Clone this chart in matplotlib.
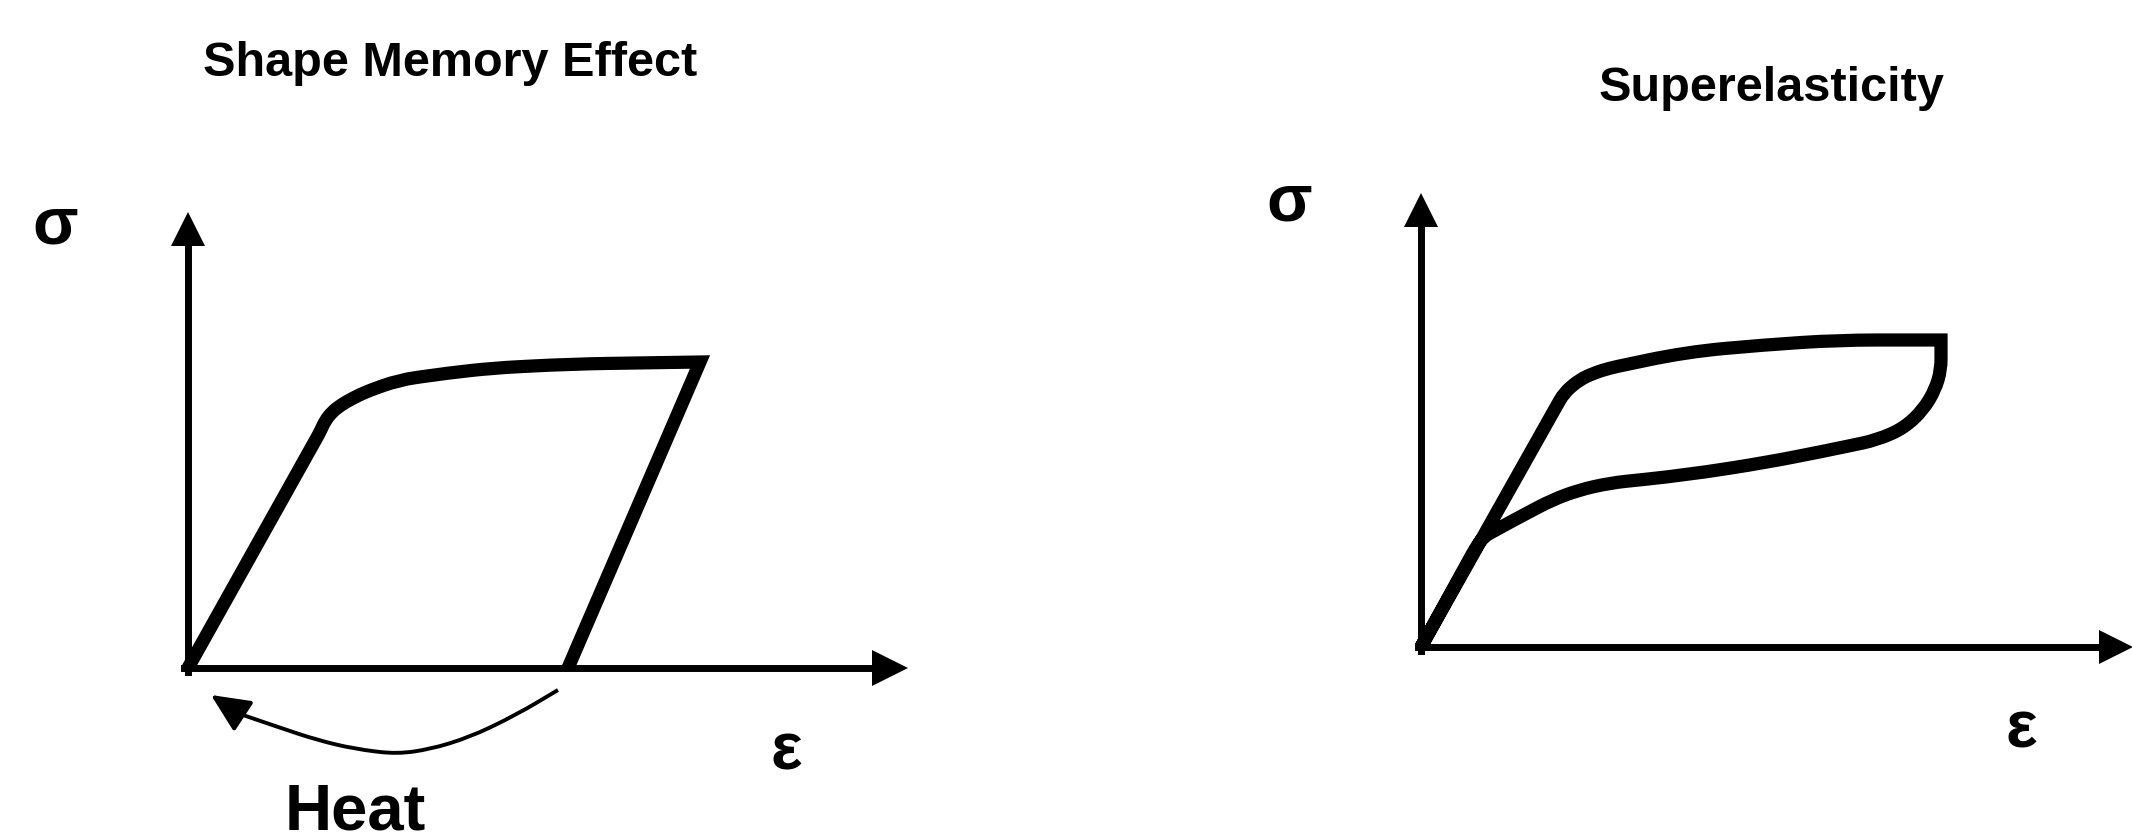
import matplotlib
matplotlib.use("Agg")
import numpy as np
import matplotlib.pyplot as plt
from matplotlib.path import Path
from matplotlib.patches import PathPatch

plt.rcParams['font.family'] = ['Liberation Sans', 'DejaVu Sans']

# ---- data (schematic stress-strain curves, arbitrary units) ----
titles = ["Shape Memory Effect", "Superelasticity"]
stress_label = "σ"
strain_label = "ε"
heat_label = "Heat"

# Shape memory effect: loading, plateau, elastic unloading to residual strain
sme_strain = [0.00, 1.32, 1.37, 1.44, 1.53, 1.65, 1.80, 2.11, 2.60, 3.06, 3.83, 5.12, 3.80]
sme_stress = [0.00, 2.36, 2.47, 2.56, 2.63, 2.70, 2.77, 2.88, 2.95, 3.00, 3.04, 3.06, 0.00]
sme_sharp = [11]

# Heat recovery arrow (from residual strain back towards origin)
heat_strain = [3.70, 3.28, 2.82, 2.43, 2.09, 1.67, 1.29, 0.90, 0.52]
heat_stress = [-0.22, -0.47, -0.69, -0.81, -0.86, -0.81, -0.72, -0.59, -0.46]
heat_tip = (0.23, -0.27)

# Superelasticity: loading branch then unloading branch
se_load_strain = [0.00, 1.35, 1.43, 1.58, 1.73, 1.89, 2.65, 3.42, 4.18, 5.20]
se_load_stress = [0.00, 2.40, 2.54, 2.67, 2.74, 2.79, 2.95, 3.02, 3.07, 3.07]
se_unload_strain = [5.20, 5.20, 5.14, 5.02, 4.83, 4.56, 3.99, 3.42, 2.65, 1.89, 1.58, 1.31, 0.93, 0.62, 0.54, 0.00]
se_unload_stress = [3.07, 2.77, 2.57, 2.37, 2.19, 2.07, 1.95, 1.84, 1.72, 1.64, 1.57, 1.47, 1.27, 1.10, 0.98, 0.00]


def rounded_path(xs, ys, sharp=()):
    """Polyline through the points with each non-sharp vertex rounded by a quadratic Bezier."""
    P = np.column_stack([xs, ys]).astype(float)
    verts = [P[0]]
    codes = [Path.MOVETO]
    for i in range(1, len(P) - 1):
        if i in sharp:
            verts.append(P[i]); codes.append(Path.LINETO)
            continue
        vp = P[i - 1] - P[i]
        vn = P[i + 1] - P[i]
        lp, ln = np.hypot(*vp), np.hypot(*vn)
        if lp == 0 or ln == 0:
            verts.append(P[i]); codes.append(Path.LINETO)
            continue
        d = 0.5 * min(lp, ln)
        a = P[i] + vp / lp * d
        b = P[i] + vn / ln * d
        verts += [a, P[i], b]
        codes += [Path.LINETO, Path.CURVE3, Path.CURVE3]
    verts.append(P[-1]); codes.append(Path.LINETO)
    return Path(verts, codes)


# ---- figure ----
fig = plt.figure(figsize=(21.32, 8.32), dpi=100)
axL = fig.add_axes([0.0, 0.0, 0.5, 1.0])
axR = fig.add_axes([0.5, 0.0, 0.5, 1.0])

AX_LW = 5.0
CURVE_LW = 9.5


def style_axes(ax, xlim, ylim, x_end, y_end, x_ms, y_ms):
    ax.set_xlim(*xlim)
    ax.set_ylim(*ylim)
    ax.patch.set_alpha(0)
    for s in ("top", "right"):
        ax.spines[s].set_visible(False)
    ax.spines["left"].set_position(("data", 0))
    ax.spines["bottom"].set_position(("data", 0))
    ax.spines["left"].set_bounds(-0.035, y_end)
    ax.spines["bottom"].set_bounds(-0.035, x_end)
    for s in ("left", "bottom"):
        ax.spines[s].set_linewidth(AX_LW)
        ax.spines[s].set_color("black")
    ax.set_xticks([])
    ax.set_yticks([])
    ax.plot([x_end], [0], marker=">", ms=x_ms, mew=0, color="black", clip_on=False)
    ax.plot([0], [y_end], marker="^", ms=y_ms, mew=0, color="black", clip_on=False)


style_axes(axL, (-1.88, 8.78), (-1.64, 6.68), 7.02, 4.39, 26, 24.5)
style_axes(axR, (-3.55, 7.11), (-1.85, 6.47), 6.95, 4.375, 24, 24.5)

# Left panel: shape memory effect
axL.add_patch(PathPatch(rounded_path(sme_strain, sme_stress, sme_sharp),
                        fill=False, lw=CURVE_LW, edgecolor="black",
                        joinstyle="miter", capstyle="butt", zorder=3))
axL.add_patch(PathPatch(rounded_path(heat_strain, heat_stress),
                        fill=False, lw=2.8, edgecolor="black",
                        joinstyle="round", capstyle="butt", zorder=3, clip_on=False))
axL.annotate("", xy=heat_tip, xytext=(heat_strain[-1], heat_stress[-1]),
             arrowprops=dict(arrowstyle="-|>,head_length=23.8,head_width=11",
                             mutation_scale=1, lw=2.8, color="black",
                             shrinkA=0, shrinkB=0))
axL.text(2.62, 5.92, titles[0], ha="center", va="baseline",
         fontsize=35, fontweight="bold")
axL.text(-1.33, 4.25, stress_label, ha="center", va="baseline",
         fontsize=48, fontweight="bold")
axL.text(5.98, -1.02, strain_label, ha="center", va="baseline",
         fontsize=48, fontweight="bold")
axL.text(1.67, -1.62, heat_label, ha="center", va="baseline",
         fontsize=47, fontweight="bold")

# Right panel: superelasticity (one closed hysteresis path)
se_strain = se_load_strain + se_unload_strain[1:]
se_stress = se_load_stress + se_unload_stress[1:]
se_sharp = [len(se_load_strain) - 1]
axR.add_patch(PathPatch(rounded_path(se_strain, se_stress, se_sharp),
                        fill=False, lw=CURVE_LW, edgecolor="black",
                        joinstyle="miter", capstyle="butt", zorder=3))
axR.text(3.50, 5.46, titles[1], ha="center", va="baseline",
         fontsize=35, fontweight="bold")
axR.text(-1.32, 4.27, stress_label, ha="center", va="baseline",
         fontsize=48, fontweight="bold")
axR.text(6.00, -1.00, strain_label, ha="center", va="baseline",
         fontsize=48, fontweight="bold")

fig.savefig("out.png", dpi=100, facecolor="white")
